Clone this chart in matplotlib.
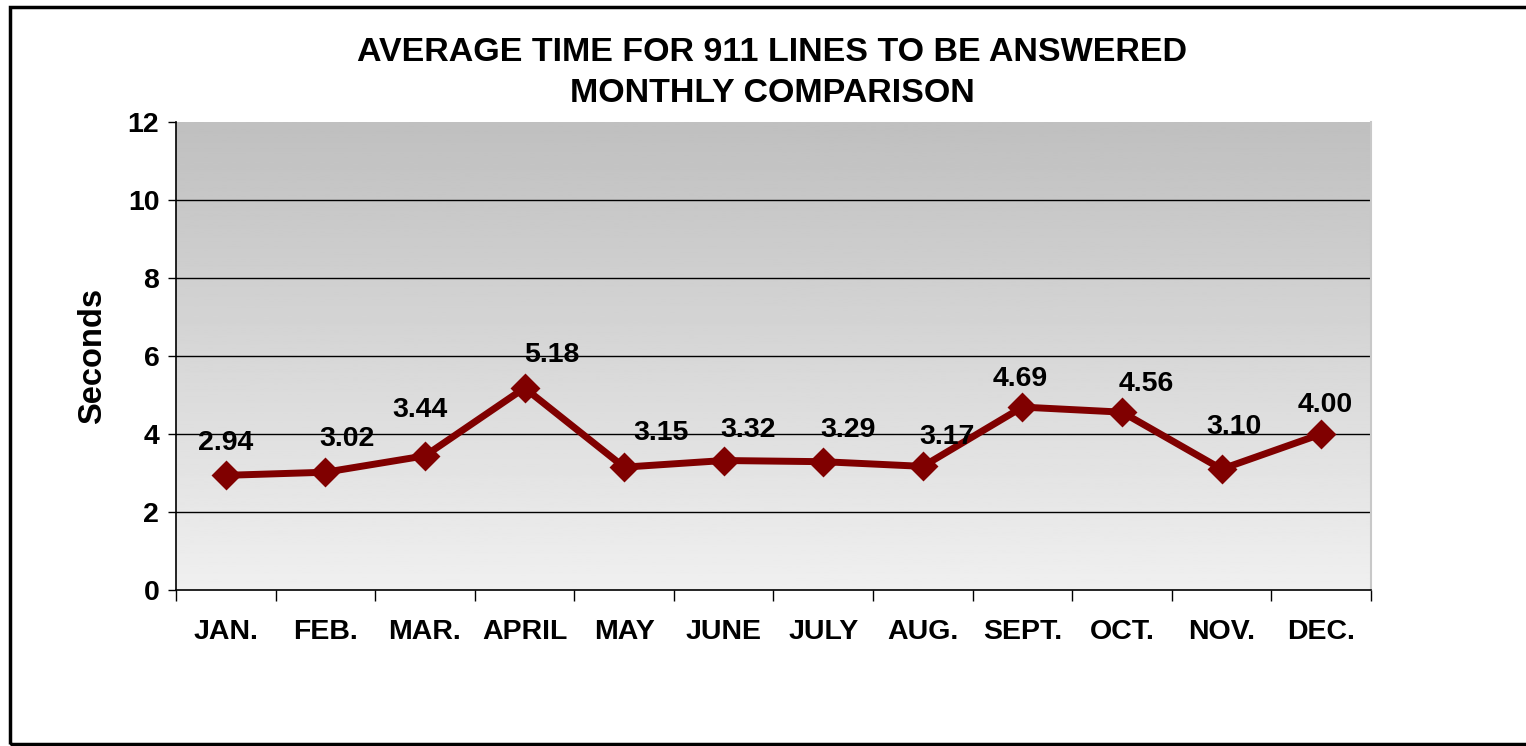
import numpy as np
import matplotlib.pyplot as plt
from matplotlib.patches import Rectangle

plt.rcParams['font.family'] = ['Liberation Sans', 'DejaVu Sans']
plt.rcParams['font.weight'] = 'bold'

months = ["JAN.", "FEB.", "MAR.", "APRIL", "MAY", "JUNE", "JULY",
          "AUG.", "SEPT.", "OCT.", "NOV.", "DEC."]
seconds = [2.94, 3.02, 3.44, 5.18, 3.15, 3.32, 3.29, 3.17, 4.69, 4.56, 3.10, 4.00]

# decalage des etiquettes (pixels) comme dans l'original
label_dx = [0, 22, -5, 27, 37, 24, 25, 24, -2, 24, 12, 4]
label_dy = [32, 33, 46, 33, 34, 31, 32, 29, 28, 28, 42, 29]

W, H = 1526, 746
fig = plt.figure(figsize=(W / 100, H / 100), dpi=100)
ax = fig.add_axes([176 / W, 1 - 590 / H, (1371 - 176) / W, (590 - 122) / H])

x = np.arange(len(months))
ax.set_xlim(-0.5, len(months) - 0.5)
ax.set_ylim(0, 12)

# fond en degrade
grad = np.linspace(0.94, 0.75, 256).reshape(-1, 1)
ax.imshow(grad, cmap='gray', vmin=0, vmax=1, aspect='auto',
          extent=[-0.5, len(months) - 0.5, 0, 12], origin='lower', zorder=0)

for yv in range(2, 12, 2):
    ax.axhline(yv, color='black', lw=1.0, zorder=1)

ax.plot(x, seconds, color='#800000', lw=5, marker='D', ms=13,
        mec='#800000', mew=2, zorder=3)

for i, v in enumerate(seconds):
    ax.annotate(f"{v:.2f}", (x[i], v), xytext=(label_dx[i], label_dy[i]),
                textcoords='offset pixels', ha='center', va='center',
                fontsize=20.5, fontweight='bold', zorder=4)

ax.set_xticks(x)
ax.set_xticklabels(months)
ax.set_xticks(np.arange(-0.5, len(months)), minor=True)
ax.tick_params(axis='x', which='major', length=0, pad=21, labelsize=20.5)
ax.tick_params(axis='x', which='minor', length=8, width=1, direction='out')
ax.set_yticks(range(0, 13, 2))
ax.tick_params(axis='y', length=6, width=1, pad=6, labelsize=20.5)

ax.spines['top'].set_visible(False)
ax.spines['right'].set_color('#c8c8c8')
ax.spines['right'].set_linewidth(1.5)
ax.spines['left'].set_linewidth(1.2)
ax.spines['bottom'].set_linewidth(1.2)

ax.set_ylabel("Seconds", fontsize=23.5, fontweight='bold', labelpad=14)

fig.text(772 / W, 1 - 73 / H, "AVERAGE TIME FOR 911 LINES TO BE ANSWERED\nMONTHLY COMPARISON",
         ha='center', va='center', fontsize=24.5, fontweight='bold', linespacing=1.4)

# cadre autour de la figure
fig.patches.append(Rectangle((10 / W, 2 / H), 1.2, 1 - 9 / H, transform=fig.transFigure,
                             fill=False, ec='black', lw=2.5))

fig.savefig("out.png", dpi=100)
